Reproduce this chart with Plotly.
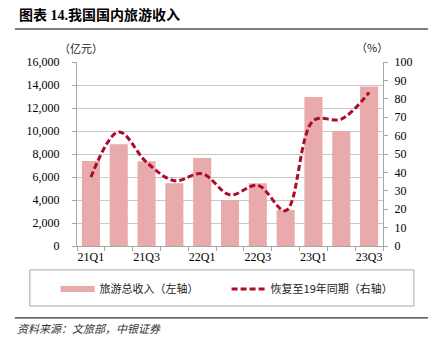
import plotly.graph_objects as go

# Quarterly domestic tourism revenue (100 million yuan) and recovery vs. 2019 (%)
quarters = ["21Q1", "21Q2", "21Q3", "21Q4", "22Q1", "22Q2", "22Q3", "22Q4",
            "23Q1", "23Q2", "23Q3"]
revenue = [7400, 8850, 7360, 5450, 7650, 4000, 5450, 3130, 12960, 10000, 13880]
recovery = [37.4, 62.0, 45.5, 35.5, 39.3, 27.8, 33.0, 19.2, 68.2, 69.0, 83.5]
tick_labels = ["21Q1", "21Q3", "22Q1", "22Q3", "23Q1", "23Q3"]

BAR_COLOR = "#E8AAAB"
LINE_COLOR = "#AE0A2A"
AXIS_COLOR = "#A6A6A6"
GRID_COLOR = "#C9C9C9"
NUM_FONT = "Liberation Serif, Times New Roman, serif"
CJK_FONT = "Noto Sans CJK SC, sans-serif"

xpos = list(range(len(quarters)))
label_pos = [quarters.index(q) for q in tick_labels]

fig = go.Figure()

fig.add_trace(go.Bar(
    x=xpos, y=revenue, name="旅游总收入（左轴）",
    marker=dict(color=BAR_COLOR, line=dict(width=0)),
    width=0.65, showlegend=False, yaxis="y",
))
# wide swatch for the bar series in the legend
fig.add_trace(go.Scatter(
    x=[None], y=[None], mode="lines", name="旅游总收入（左轴）",
    line=dict(color=BAR_COLOR, width=6), yaxis="y",
))
fig.add_trace(go.Scatter(
    x=xpos, y=recovery, name="恢复至19年同期（右轴）", mode="lines",
    line=dict(color=LINE_COLOR, width=3, dash="6px,3px", shape="spline", smoothing=1.0),
    yaxis="y2",
))

fig.update_layout(
    width=428, height=346,
    margin=dict(l=77, r=45, t=62, b=100, pad=0),
    paper_bgcolor="white", plot_bgcolor="white",
    font=dict(family=NUM_FONT, size=12, color="#000000"),
    bargap=0.35,
    xaxis=dict(
        range=[-0.5, len(quarters) - 0.5],
        tickmode="array", tickvals=label_pos, ticktext=tick_labels,
        ticks="", showgrid=False, zeroline=False,
        showline=True, linecolor=AXIS_COLOR, linewidth=1,
        tickfont=dict(family=NUM_FONT, size=12, color="#000"),
        minor=dict(tick0=-0.5, dtick=1, ticks="outside", ticklen=4,
                   tickcolor=AXIS_COLOR, showgrid=False),
    ),
    yaxis=dict(
        range=[0, 16000], dtick=2000, tickformat=",",
        showgrid=True, gridcolor=GRID_COLOR, gridwidth=1,
        zeroline=False, showline=True, linecolor=AXIS_COLOR, linewidth=1,
        ticks="outside", ticklen=4, tickcolor=AXIS_COLOR,
        ticklabelstandoff=10,
        tickfont=dict(family=NUM_FONT, size=12, color="#000"),
    ),
    yaxis2=dict(
        range=[0, 100], dtick=10, overlaying="y", side="right",
        showgrid=False, zeroline=False, showline=True,
        linecolor=AXIS_COLOR, linewidth=1,
        ticks="outside", ticklen=4, tickcolor=AXIS_COLOR,
        ticklabelstandoff=4,
        tickfont=dict(family=NUM_FONT, size=12, color="#000"),
    ),
    legend=dict(
        orientation="h", x=-0.07, y=-0.234, xanchor="left", yanchor="middle",
        font=dict(family=CJK_FONT, size=11, color="#222"),
        bgcolor="rgba(0,0,0,0)", itemwidth=34, entrywidth=122,
        traceorder="normal",
    ),
    shapes=[
        # rule under the title
        dict(type="line", xref="paper", yref="paper", x0=-0.203, x1=1.15,
             y0=1.179, y1=1.179, line=dict(color="#555", width=1.5)),
        # legend frame
        dict(type="rect", xref="paper", yref="paper", x0=-0.154, x1=1.101,
             y0=-0.326, y1=-0.130, line=dict(color="#A6A6A6", width=1)),
        # rule above the source note
        dict(type="line", xref="paper", yref="paper", x0=-0.203, x1=1.15,
             y0=-0.391, y1=-0.391, line=dict(color="#333", width=1.2)),
    ],
    annotations=[
        dict(text="<b>图表 14.我国国内旅游收入</b>", xref="paper", yref="paper",
             x=-0.197, y=1.255, xanchor="left", yanchor="middle", showarrow=False,
             font=dict(family="Liberation Serif, Noto Sans CJK SC", size=14, color="#000")),
        dict(text="（亿元）", xref="paper", yref="paper", x=0.013, y=1.076,
             xanchor="center", yanchor="middle", showarrow=False,
             font=dict(family=CJK_FONT, size=11, color="#222")),
        dict(text="（%）", xref="paper", yref="paper", x=0.964, y=1.08,
             xanchor="center", yanchor="middle", showarrow=False,
             font=dict(family=CJK_FONT, size=11, color="#222")),
        dict(text="<i>资料来源：文旅部，中银证券</i>", xref="paper", yref="paper",
             x=-0.203, y=-0.446, xanchor="left", yanchor="middle", showarrow=False,
             font=dict(family=CJK_FONT, size=11, color="#333")),
    ],
)

fig.write_html("out.html")
